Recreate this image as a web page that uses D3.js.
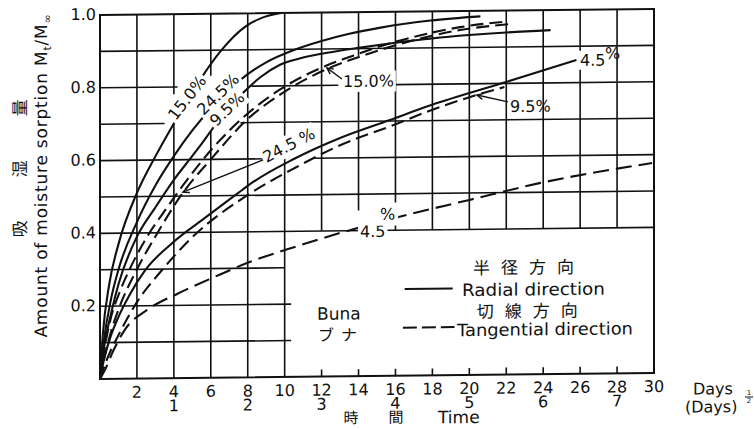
<!DOCTYPE html>
<html>
<head>
<meta charset="utf-8">
<script src="https://cdn.jsdelivr.net/npm/d3@7"></script>
<style>
  html, body { margin: 0; padding: 0; background: #fff; }
  svg { display: block; }
  text { font-family: "DejaVu Sans", "Noto Sans CJK JP", sans-serif; fill: #111; }
  .cjk { font-family: "Noto Sans CJK JP", sans-serif; }
</style>
</head>
<body>
<svg id="chart" width="754" height="429"></svg>
<script>
// Moisture sorption of Buna (beech): radial (solid) vs tangential (dashed)
// at four moisture levels. x: time in days, y: Mt / M-infinity.

const xTickValues = [2, 4, 6, 8, 10, 12, 14, 16, 18, 20, 22, 24, 26, 28, 30];
const rootTickValues = [1, 2, 3, 4, 5, 6, 7];          // (Days)^1/2, placed under 4, 8, ... 28
const yTickValues = [0.2, 0.4, 0.6, 0.8, 1.0];
const gridXValues = [2, 4, 6, 8, 10, 12, 14, 16, 18, 20, 22, 24, 26, 28];
const gridYValues = [0.1, 0.2, 0.3, 0.4, 0.5, 0.6, 0.7, 0.8, 0.9];

// radial direction
const radial150 = [[0,0],[0.15,0.12],[0.5,0.26],[1,0.37],[2,0.51],[3,0.61],[4,0.70],[5,0.785],[5.5,0.825],[6.5,0.895],[7.85,0.963],[8.7,0.986],[9.8,1.0]];
const radial245 = [[0,0],[0.2,0.1],[0.6,0.22],[1,0.30],[2,0.43],[3,0.53],[4,0.61],[5,0.68],[6,0.74],[7,0.79],[8,0.833],[9,0.865],[10.5,0.898],[12,0.922],[13.5,0.941],[15.2,0.957],[17.9,0.975],[20.6,0.985]];
const radial95  = [[0,0],[0.2,0.08],[0.6,0.18],[1,0.26],[2,0.39],[3,0.47],[4,0.545],[5,0.61],[5.5,0.643],[6.5,0.712],[7.75,0.782],[8.7,0.825],[9.75,0.858],[11,0.877],[12.5,0.891],[14,0.902],[16,0.915],[18,0.926],[20,0.934],[22,0.94],[24.4,0.945]];
const radial45  = [[0,0],[0.2,0.05],[0.6,0.12],[1,0.17],[1.6,0.23],[2.44,0.297],[3.9,0.371],[5.7,0.44],[7.7,0.515],[8.1,0.53],[10.55,0.6],[13,0.655],[15.7,0.703],[17.9,0.742],[21.8,0.801],[25.8,0.862]];

// tangential direction
const tangential150 = [[0,0],[0.2,0.07],[0.6,0.17],[1,0.23],[1.6,0.30],[2.5,0.385],[3.5,0.46],[4.5,0.53],[6,0.625],[8,0.725],[9.75,0.79],[12.3,0.855],[13.5,0.877],[15,0.903],[17.2,0.933],[19.5,0.956],[22,0.97]];
const tangential245 = [[0,0],[0.2,0.05],[0.6,0.13],[1,0.19],[2,0.30],[3,0.39],[4.5,0.51],[6,0.60],[8,0.71],[9.75,0.776],[12.3,0.845],[13.5,0.868],[15,0.893],[17.2,0.924],[19.5,0.948],[22.2,0.963]];
const tangential95  = [[0,0],[0.2,0.03],[0.6,0.08],[1,0.12],[2,0.21],[3.35,0.297],[5,0.387],[8,0.501],[10.55,0.574],[13,0.635],[15.9,0.689],[18,0.73],[20.4,0.769],[21.9,0.79]];
const tangential45  = [[0,0],[0.27,0.025],[0.7,0.075],[1.35,0.135],[2.6,0.19],[4.2,0.232],[6.2,0.277],[8.1,0.317],[10.1,0.35],[13,0.394],[15.9,0.433],[20,0.481],[23.8,0.525],[29.9,0.577]];

const series = [
  { values: radial150, dashed: false },
  { values: radial245, dashed: false },
  { values: radial95, dashed: false },
  { values: radial45, dashed: false },
  { values: tangential150, dashed: true },
  { values: tangential245, dashed: true },
  { values: tangential95, dashed: true },
  { values: tangential45, dashed: true, long: true }
];

// hand-drawn grid: places where the ruling stops around lettering
const hGaps = [
  { at: 0.8, from: 4.2, to: 8.2 },
  { at: 0.8, from: 12.9, to: 15.9 },
  { at: 0.7, from: 3.5, to: 7.6 },
  { at: 0.6, from: 8.9, to: 11.6 }
];
const vGaps = [
  { at: 4, from: 0.70, to: 0.78 },
  { at: 6, from: 0.68, to: 0.83 },
  { at: 14, from: 0.79, to: 0.88 },
  { at: 14, from: 0.4, to: 0.455 }
];

const ink = "#111";
const svg = d3.select("#chart");
svg.append("rect").attr("width", 754).attr("height", 429).attr("fill", "#fff");

// the drawing sits slightly tilted on the page
const root = svg.append("g")
  .attr("transform", "translate(100,0) skewY(-0.62) translate(-100,0)");

const x = d3.scaleLinear().domain([0, 30]).range([100, 654]);
const y = d3.scaleLinear().domain([0, 1]).range([379, 15]);

function pieces(lo, hi, cuts) {
  let segs = [[lo, hi]];
  cuts.forEach(c => {
    segs = segs.flatMap(([a, b]) => {
      if (c[1] <= a || c[0] >= b) return [[a, b]];
      const out = [];
      if (c[0] > a) out.push([a, c[0]]);
      if (c[1] < b) out.push([c[1], b]);
      return out;
    });
  });
  return segs;
}

// ---- grid ----
const grid = root.append("g").attr("stroke", ink).attr("stroke-width", 1.6).attr("fill", "none");
gridYValues.forEach(v => {
  const end = v >= 0.4 ? 30 : (v === 0.3 ? 10 : 10.35);
  const cuts = hGaps.filter(g => g.at === v).map(g => [g.from, g.to]);
  pieces(0, end, cuts).forEach(([a, b]) => {
    grid.append("line").attr("x1", x(a)).attr("x2", x(b)).attr("y1", y(v)).attr("y2", y(v));
  });
});
gridXValues.forEach(v => {
  const lo = v <= 10 ? 0 : 0.4;
  const cuts = vGaps.filter(g => g.at === v).map(g => [g.from, g.to]);
  pieces(lo, 1, cuts).forEach(([a, b]) => {
    grid.append("line").attr("x1", x(v)).attr("x2", x(v)).attr("y1", y(a)).attr("y2", y(b));
  });
  if (v > 10) {
    grid.append("line").attr("x1", x(v)).attr("x2", x(v)).attr("y1", y(0)).attr("y2", y(0) - 7);
  }
});
root.append("rect")
  .attr("x", x(0)).attr("y", y(1))
  .attr("width", x(30) - x(0)).attr("height", y(0) - y(1))
  .attr("fill", "none").attr("stroke", ink).attr("stroke-width", 2);

// ---- curves ----
const line = d3.line().x(d => x(d[0])).y(d => y(d[1])).curve(d3.curveMonotoneX);
const curveG = root.append("g").attr("fill", "none").attr("stroke", ink).attr("stroke-width", 2.1);
series.forEach(s => {
  curveG.append("path")
    .attr("d", line(s.values))
    .attr("stroke-dasharray", s.dashed ? (s.long ? "16,7" : "13,6") : null);
});

// ---- labels ----
const labelG = root.append("g");

function knockText(cx, cy, angle, str, opts = {}) {
  const g = labelG.append("g").attr("transform", `translate(${cx},${cy}) rotate(${angle})`);
  const t = g.append("text")
    .attr("text-anchor", opts.anchor || "middle")
    .attr("dy", opts.dy != null ? opts.dy : "0.35em")
    .attr("font-size", opts.size || 16)
    .text(str);
  if (opts.knock !== false) {
    const b = t.node().getBBox();
    const p = opts.pad != null ? opts.pad : 2;
    g.insert("rect", "text")
      .attr("x", b.x - p).attr("y", b.y - p + 1)
      .attr("width", b.width + 2 * p).attr("height", b.height + 2 * p - 2)
      .attr("fill", "#fff");
  }
  return t;
}

function leader(x0, y0, x1, y1) {
  // line from label (x0,y0) to arrow tip (x1,y1), in data units
  const sx = x(x0), sy = y(y0), tx = x(x1), ty = y(y1);
  labelG.append("line").attr("x1", sx).attr("y1", sy).attr("x2", tx).attr("y2", ty)
    .attr("stroke", ink).attr("stroke-width", 1.3);
  const a = Math.atan2(sy - ty, sx - tx);
  const L = 7, w = 0.45;
  labelG.append("path")
    .attr("d", `M${tx + L * Math.cos(a + w)},${ty + L * Math.sin(a + w)}L${tx},${ty}L${tx + L * Math.cos(a - w)},${ty + L * Math.sin(a - w)}`)
    .attr("fill", "none").attr("stroke", ink).attr("stroke-width", 1.4);
}

// labels written along the steep radial curves
knockText(x(4.71), y(0.770), -52, "15.0%");
knockText(x(6.39), y(0.779), -44, "24.5%");
knockText(x(6.88), y(0.738), -44, "9.5%");

// tangential labels with leader arrows
knockText(x(13.16), y(0.795), 0, "15.0%", { anchor: "start", dy: 0, pad: 2 });
leader(13.1, 0.817, 12.29, 0.848);

knockText(x(10.23), y(0.637), -27, "24.5 %");
leader(8.83, 0.597, 4.49, 0.511);

knockText(x(22.2), y(0.721), 0, "9.5%", { anchor: "start", dy: 0, knock: false });
leader(22.09, 0.749, 20.41, 0.769);

// end label of the radial 4.5% curve, with raised percent sign
knockText(x(25.99), y(0.846), 0, "4.5", { anchor: "start", dy: 0, pad: 1 });
knockText(x(27.35), y(0.864), 0, "%", { anchor: "start", dy: 0, knock: false });

// label breaking the tangential 4.5% curve
knockText(x(14.08), y(0.382), 0, "4.5", { anchor: "start", dy: 0, pad: 2 });
knockText(x(15.16), y(0.429), 0, "%", { anchor: "start", dy: 0, pad: 3 });

// ---- legend ----
const lg = root.append("g");
lg.append("text").attr("class", "cjk").attr("x", x(20.2)).attr("y", y(0.277))
  .attr("font-size", 17).attr("letter-spacing", 11).text("半径方向");
lg.append("line").attr("x1", x(16.5)).attr("x2", x(19.1)).attr("y1", y(0.238)).attr("y2", y(0.238))
  .attr("stroke", ink).attr("stroke-width", 2);
lg.append("text").attr("x", x(19.6)).attr("y", y(0.217)).attr("font-size", 17)
  .attr("textLength", 143).attr("lengthAdjust", "spacingAndGlyphs").text("Radial direction");
lg.append("text").attr("class", "cjk").attr("x", x(20.4)).attr("y", y(0.157))
  .attr("font-size", 17).attr("letter-spacing", 11).text("切線方向");
lg.append("line").attr("x1", x(16.4)).attr("x2", x(19.2)).attr("y1", y(0.132)).attr("y2", y(0.132))
  .attr("stroke", ink).attr("stroke-width", 2).attr("stroke-dasharray", "14,5");
lg.append("text").attr("x", x(19.33)).attr("y", y(0.107)).attr("font-size", 17)
  .attr("textLength", 176).attr("lengthAdjust", "spacingAndGlyphs").text("Tangential direction");
lg.append("text").attr("x", x(11.75)).attr("y", y(0.156)).attr("font-size", 17).text("Buna");
lg.append("text").attr("class", "cjk").attr("x", x(11.8)).attr("y", y(0.098))
  .attr("font-size", 16).attr("letter-spacing", 7).text("ブナ");

// ---- axes text ----
const base = y(0);
const axG = root.append("g").attr("font-size", 16);
axG.selectAll(".xt").data(xTickValues).join("text")
  .attr("x", d => x(d)).attr("y", base + 19).attr("text-anchor", "middle").text(d => d);
axG.selectAll(".xr").data(rootTickValues).join("text")
  .attr("x", d => x(d * 4)).attr("y", base + 33).attr("text-anchor", "middle").text(d => d);
axG.selectAll(".yt").data(yTickValues).join("text")
  .attr("x", 96).attr("y", d => y(d)).attr("dy", "0.3em").attr("text-anchor", "end")
  .text(d => d3.format(".1f")(d));

axG.append("text").attr("x", 693).attr("y", base + 22).attr("font-size", 16).text("Days");
axG.append("text").attr("x", 685).attr("y", base + 40).attr("font-size", 16).text("(Days)");
axG.append("text").attr("x", 749).attr("y", base + 23).attr("font-size", 7).attr("text-anchor", "middle").text("1");
axG.append("line").attr("x1", 745).attr("x2", 753).attr("y1", base + 25).attr("y2", base + 25)
  .attr("stroke", ink).attr("stroke-width", 1);
axG.append("text").attr("x", 749).attr("y", base + 31).attr("font-size", 7).attr("text-anchor", "middle").text("2");

axG.append("text").attr("class", "cjk").attr("x", 351).attr("y", base + 47).attr("font-size", 15)
  .attr("text-anchor", "middle").text("時");
axG.append("text").attr("class", "cjk").attr("x", 396).attr("y", base + 47).attr("font-size", 15)
  .attr("text-anchor", "middle").text("間");
axG.append("text").attr("x", 438).attr("y", base + 48).attr("font-size", 17).text("Time");

// y-axis title, stretched to run from 337 up to 13
const yTitle = root.append("text").attr("transform", "translate(47,337) rotate(-90)").attr("font-size", 17);
yTitle.append("tspan").text("Amount of moisture sorption M");
yTitle.append("tspan").attr("font-size", 11).attr("dy", 4).text("t");
yTitle.append("tspan").attr("dy", -4).text("/M");
yTitle.append("tspan").attr("font-size", 11).attr("dy", 4).text("∞");
{
  const len = yTitle.node().getComputedTextLength();
  const chars = "Amount of moisture sorption Mt/M∞".length;
  yTitle.attr("letter-spacing", Math.max(0, (324 - len) / chars));
}

[["吸", 228], ["湿", 168], ["量", 107]].forEach(([ch, cy]) => {
  root.append("text").attr("class", "cjk")
    .attr("transform", `translate(20,${cy}) rotate(-90)`)
    .attr("text-anchor", "middle").attr("dy", "0.35em").attr("font-size", 17).text(ch);
});
</script>
</body>
</html>
